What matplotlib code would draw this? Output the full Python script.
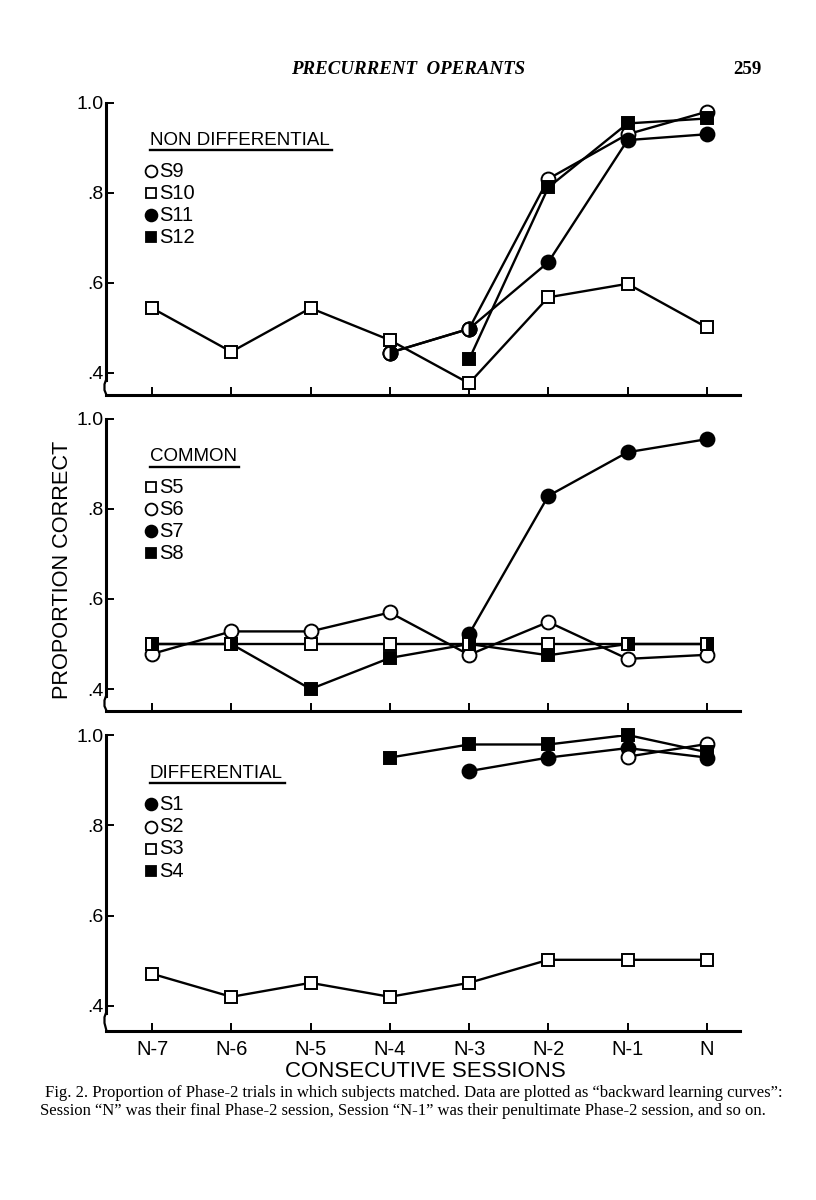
import matplotlib
matplotlib.use('Agg')
import matplotlib.pyplot as plt
import numpy as np

nan = np.nan

sessions = ['N-7', 'N-6', 'N-5', 'N-4', 'N-3', 'N-2', 'N-1', 'N']
y_ticks = [0.4, 0.6, 0.8, 1.0]
y_tick_labels = ['.4', '.6', '.8', '1.0']

# NON DIFFERENTIAL
s9 = [nan, nan, nan, 0.445, 0.498, 0.831, 0.930, 0.980]
s10 = [0.544, 0.447, 0.544, 0.473, 0.377, 0.568, 0.598, 0.501]
s11 = [nan, nan, nan, 0.445, 0.498, 0.646, 0.917, 0.930]
s12 = [nan, nan, nan, nan, 0.430, 0.812, 0.954, 0.965]

# COMMON
s5 = [0.50, 0.50, 0.50, 0.50, 0.50, 0.50, 0.50, 0.50]
s6 = [0.478, 0.528, 0.528, 0.570, 0.476, 0.549, 0.467, 0.476]
s7 = [nan, nan, nan, nan, 0.522, 0.829, 0.926, 0.955]
s8 = [0.50, 0.50, 0.40, 0.469, 0.50, 0.475, 0.50, 0.50]

# DIFFERENTIAL
s1 = [nan, nan, nan, nan, 0.920, 0.950, 0.971, 0.950]
s2 = [nan, nan, nan, nan, nan, nan, 0.952, 0.980]
s3 = [0.471, 0.420, 0.451, 0.420, 0.451, 0.502, 0.502, 0.502]
s4 = [nan, nan, nan, 0.950, 0.979, 0.979, 1.000, 0.962]

# (label, values, marker, filled)
panels = [
    ('NON DIFFERENTIAL', [('S9', s9, 'o', False), ('S10', s10, 's', False),
                          ('S11', s11, 'o', True), ('S12', s12, 's', True)]),
    ('COMMON', [('S5', s5, 's', False), ('S6', s6, 'o', False),
                ('S7', s7, 'o', True), ('S8', s8, 's', True)]),
    ('DIFFERENTIAL', [('S1', s1, 'o', True), ('S2', s2, 'o', False),
                      ('S3', s3, 's', False), ('S4', s4, 's', True)]),
]

letter_font = ['Liberation Sans', 'DejaVu Sans']
serif_font = ['Liberation Serif', 'DejaVu Serif']

fig = plt.figure(figsize=(8.16, 12), dpi=100)
positions = [[0.130, 0.6708, 0.777, 0.2436],
             [0.130, 0.4078, 0.777, 0.2431],
             [0.130, 0.1411, 0.777, 0.2464]]
ylows = [0.351, 0.352, 0.345]

x = np.arange(len(sessions))
titles = []
for i, (title, series) in enumerate(panels):
    ax = fig.add_axes(positions[i])
    # lines first, markers on top
    for name, vals, mk, filled in series:
        ax.plot(x, vals, '-', color='black', lw=1.7, zorder=2)
    for name, vals, mk, filled in series:
        ms = 10 if mk == 'o' else 9.2
        ax.plot(x, vals, linestyle='none', marker=mk, ms=ms, mew=1.4,
                mec='black', mfc='black' if filled else 'white',
                zorder=3, clip_on=False)
    # half filled markers where an open and a filled series coincide
    for name_a, va, mka, fa in series:
        for name_b, vb, mkb, fb in series:
            if mka != mkb or fa or not fb:
                continue
            va_ = np.array(va)
            same = np.isclose(va_, np.array(vb))
            if same.any():
                ms = 10 if mka == 'o' else 9.2
                ax.plot(x[same], va_[same], linestyle='none', marker=mka,
                        ms=ms, mew=1.4, mec='black', mfc='black',
                        mfcalt='white', fillstyle='right', zorder=4,
                        clip_on=False)

    ax.set_xlim(-0.58, 7.42)
    ax.set_ylim(ylows[i], 1.0)
    ax.set_yticks(y_ticks)
    ax.set_yticklabels(y_tick_labels, family=letter_font, fontsize=14)
    ax.set_xticks(x)
    if i == 2:
        ax.set_xticklabels(sessions, family=letter_font, fontsize=14.5)
    else:
        ax.set_xticklabels([])
    ax.tick_params(direction='in', length=6, width=1.4, pad=2)
    ax.tick_params(axis='x', pad=7)
    for sp in ['top', 'right']:
        ax.spines[sp].set_visible(False)
    ax.spines['left'].set_linewidth(2.2)
    ax.spines['bottom'].set_linewidth(2.2)
    ax.spines['left'].set_bounds(0.385, 1.0)
    # little axis break at the corner
    ax.plot([-0.58, -0.60, -0.60, -0.575], [0.385, 0.375, 0.362, ylows[i]],
            color='black', lw=1.6, clip_on=False, zorder=5)

    t = ax.text(0.069, 0.87, title, transform=ax.transAxes, family=letter_font,
                fontsize=13.5, va='center', ha='left')
    titles.append((ax, t))
    for k, (name, vals, mk, filled) in enumerate(series):
        yy = 0.765 - k * 0.075
        ax.plot([0.071], [yy], transform=ax.transAxes, marker=mk,
                ms=8.5 if mk == 'o' else 7.5, mew=1.3, mec='black',
                mfc='black' if filled else 'white', linestyle='none',
                clip_on=False)
        ax.text(0.083, yy, name, transform=ax.transAxes, family=letter_font,
                fontsize=14.5, va='center', ha='left')

fig.text(0.076, 0.525, 'PROPORTION CORRECT', rotation=90, family=letter_font,
         fontsize=15.7, ha='center', va='center')
fig.text(0.521, 0.1068, 'CONSECUTIVE SESSIONS', family=letter_font,
         fontsize=16, ha='center', va='center')

fig.text(0.5, 0.942, 'PRECURRENT  OPERANTS', family=serif_font,
         style='italic', weight='bold', fontsize=13.6, ha='center', va='center')
fig.text(0.916, 0.942, '259', family=serif_font, weight='bold',
         fontsize=13.6, ha='center', va='center')

fig.text(0.055, 0.0895, 'Fig. 2. Proportion of Phase-2 trials in which subjects matched. '
         'Data are plotted as \u201cbackward learning curves\u201d:',
         family=serif_font, fontsize=12, ha='left', va='center')
fig.text(0.049, 0.0745, 'Session \u201cN\u201d was their final Phase-2 session, '
         'Session \u201cN-1\u201d was their penultimate Phase-2 session, and so on.',
         family=serif_font, fontsize=12, ha='left', va='center')

# underline the group titles
fig.canvas.draw()
renderer = fig.canvas.get_renderer()
for ax, t in titles:
    bb = t.get_window_extent(renderer).transformed(ax.transAxes.inverted())
    ax.plot([bb.x0, bb.x1 + 0.004], [bb.y0 - 0.004, bb.y0 - 0.004],
            transform=ax.transAxes, color='black', lw=1.7, clip_on=False)

fig.savefig('out.png', dpi=100)
